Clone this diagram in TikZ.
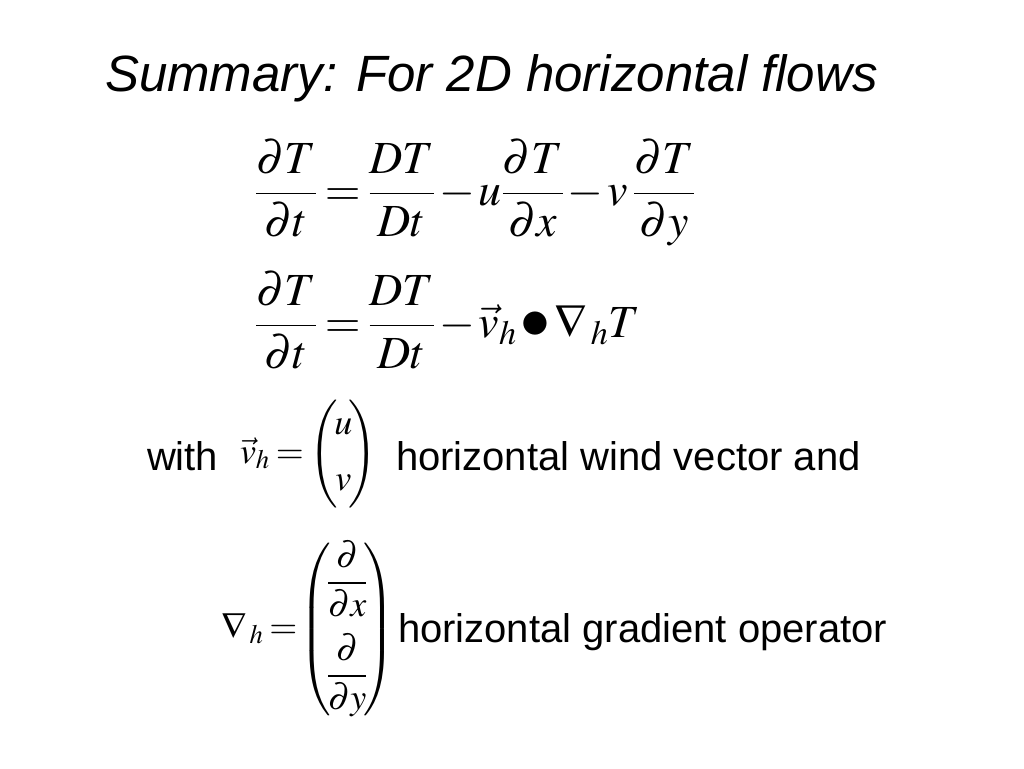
\documentclass[tikz,border=0pt]{standalone}
\usepackage{amsmath}
\usepackage{mathptmx}
\usepackage[no-math]{fontspec}
\setmainfont{Liberation Sans}
\newcommand{\fr}[2]{\genfrac{}{}{1.8pt}{0}{#1}{#2}}
\newcommand{\dotop}{\mathbin{\vcenter{\hbox{\scalebox{1.3}{$\bullet$}}}}}
\newcommand{\tightmath}{\thickmuskip=3mu\relax\medmuskip=1.5mu\relax}

\begin{document}
\begin{tikzpicture}[x=1pt,y=-1pt,
  every node/.style={inner sep=0pt,outer sep=0pt},
  titletext/.style={anchor=base west,font=\fontsize{51}{60}\selectfont\itshape},
  bodytext/.style={anchor=base west,font=\fontsize{40}{48}\selectfont},
  bigmath/.style={anchor=base west,font=\fontsize{46}{55}\selectfont},
  smallmath/.style={anchor=base west,font=\fontsize{36}{44}\selectfont}]
\useasboundingbox (0,0) rectangle (1024,768);
\node[titletext] (title) at (105,91) {Summary: For 2D horizontal flows};
% material derivative, written out and in vector form
\node[bigmath] (eqa) at (255,205) {$\tightmath\fr{\partial T}{\partial t}=\fr{DT}{Dt}-u\fr{\partial T}{\partial x}-v\,\fr{\partial T}{\partial y}$};
\node[bigmath] (eqb) at (255,337) {$\tightmath\fr{\partial T}{\partial t}=\fr{DT}{Dt}-\vec{v}_{h}\dotop\nabla_{\,h}T$};
% wind vector
\node[bodytext] (with) at (147,470) {with};
\node[smallmath] (vh) at (240,463) {$\tightmath\vec{v}_{h}=\left(\!\begin{array}{@{}c@{}}u\\ \noalign{\vskip 12pt} v\end{array}\!\right)$};
\node[bodytext] (windtxt) at (396,470) {horizontal wind vector and};
% gradient operator
\node[smallmath] (nablah) at (221,638) {$\tightmath\nabla_{\,h}=\!\left(\!\begin{array}{@{}c@{}}\fr{\partial}{\partial x}\\ \noalign{\vskip 16pt}\fr{\partial}{\partial y}\end{array}\!\right)$};
\node[bodytext] (gradtxt) at (398,642) {horizontal gradient operator};
\end{tikzpicture}
\end{document}
